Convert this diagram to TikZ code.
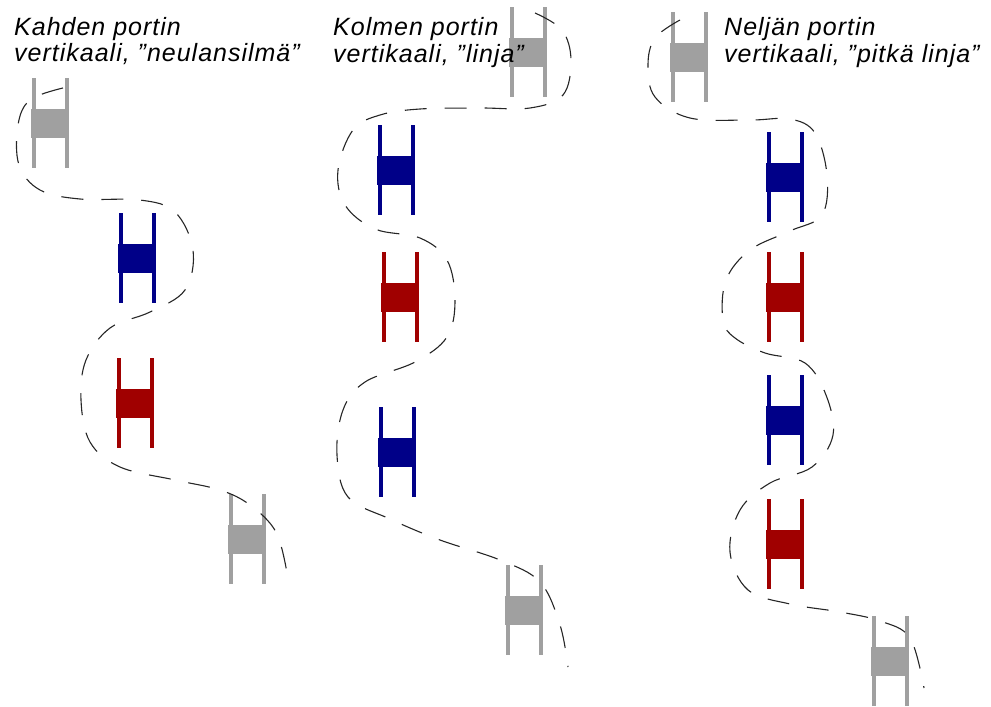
\documentclass[tikz,border=0pt]{standalone}
\usepackage{fontspec}
\setmainfont{Liberation Sans}
\usepackage{tikz}
\usetikzlibrary{calc}
\definecolor{gategray}{HTML}{A0A0A0}
\definecolor{gateblue}{HTML}{000088}
\definecolor{gatered}{HTML}{A00000}

\begin{document}
\begin{tikzpicture}[x=1pt, y=-1pt]
\useasboundingbox (0,0) rectangle (991,707);
\foreach \x/\y/\c in {50/123/gategray, 137/258/gateblue, 135/403/gatered, 247/539/gategray,
  528/52/gategray, 396/170/gateblue, 400/297/gatered, 397/452/gateblue, 524/610/gategray,
  689/57/gategray, 785/177/gateblue, 785/297/gatered, 785/420/gateblue, 785/544/gatered, 890/661/gategray}
{
  \draw[\c, line width=4pt] (\x-16.5,\y-45)--(\x-16.5,\y+45);
  \draw[\c, line width=4pt] (\x+16.5,\y-45)--(\x+16.5,\y+45);
  \fill[\c] (\x-19,\y-14.5) rectangle (\x+19,\y+14.5);
}
\draw[black!85, line width=1.1pt, dash pattern=on 22pt off 18pt] plot[smooth, tension=0.6] coordinates {
  (63,88) (30,100) (18,125) (19,165) (40,190) (80,199) (140,200) (175,212) (193,250) (185,290)
  (150,312) (110,328) (86,360) (81,400) (90,442) (120,467) (175,480) (220,490) (250,505) (276,532) (287,573)};
\draw[black!85, line width=1.1pt, dash pattern=on 22pt off 18pt] plot[smooth, tension=0.6] coordinates {
  (535,13) (562,30) (571,60) (563,95) (530,108) (480,108) (420,109) (380,115) (353,130) (338,170)
  (345,205) (375,229) (420,238) (447,260) (455,300) (447,337) (415,362) (365,382) (343,410) (337,455)
  (348,497) (390,519) (440,540) (500,560) (540,582) (560,625) (568,667)};
\draw[black!85, line width=1.1pt, dash pattern=on 22pt off 18pt] plot[smooth, tension=0.6] coordinates {
  (680,20) (655,38) (648,65) (655,97) (690,118) (750,120) (790,119) (815,133) (827,175) (822,215)
  (790,231) (750,250) (726,280) (723,320) (735,338) (765,353) (805,363) (826,395) (833,435) (812,467)
  (770,483) (740,510) (730,552) (748,590) (790,604) (840,612) (880,621) (910,638) (924,688)};
\path
(14,61) node[anchor=base west, inner sep=0, align=left, font=\fontsize{25}{26}\selectfont\itshape\addfontfeature{LetterSpace=4}]{Kahden portin\\vertikaali, ”neulansilmä”};
\path
(333,62) node[anchor=base west, inner sep=0, align=left, font=\fontsize{25}{27}\selectfont\itshape\addfontfeature{LetterSpace=4}]{Kolmen portin\\vertikaali, ”linja”};
\path
(724,62) node[anchor=base west, inner sep=0, align=left, font=\fontsize{25}{27}\selectfont\itshape\addfontfeature{LetterSpace=4}]{Neljän portin\\vertikaali, ”pitkä linja”};
\end{tikzpicture}
\end{document}
